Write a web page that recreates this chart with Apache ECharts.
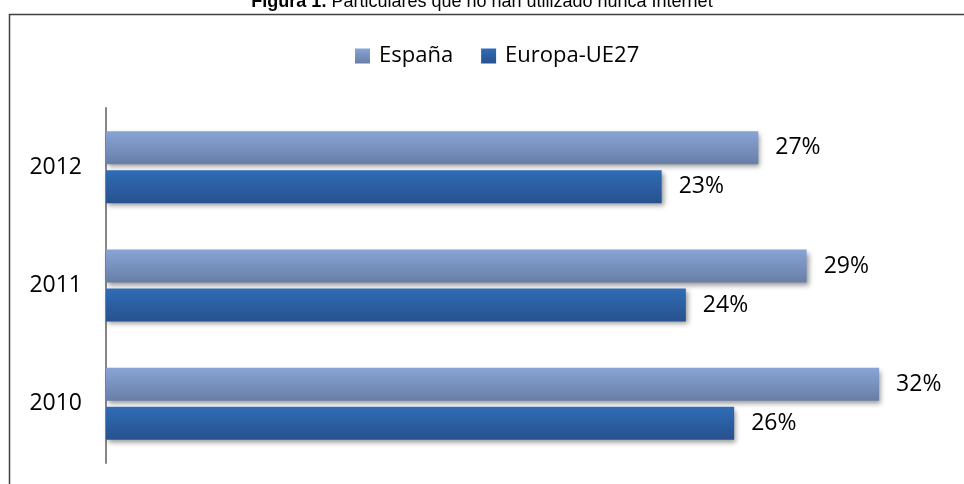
<!DOCTYPE html>
<html>
<head>
<meta charset="utf-8">
<script src="https://cdn.jsdelivr.net/npm/echarts@6/dist/echarts.min.js"></script>
<style>
  html, body { margin: 0; padding: 0; background: #fff; }
  #chart { width: 964px; height: 484px; }
</style>
</head>
<body>
<div id="chart"></div>
<script>
// Particulares que no han utilizado nunca Internet (%)
const years = ['2010', '2011', '2012']
const espana = [32, 29, 27]
const europa = [26, 24, 23]

const chart = echarts.init(document.getElementById('chart'))

const labelFont = '"Open Sans", sans-serif'

chart.setOption({
  animation: false,
  title: {
    text: '{b|Figura 1.} Particulares que no han utilizado nunca Internet',
    left: 'center',
    top: -12,
    textStyle: {
      fontFamily: '"Liberation Sans", Arial, sans-serif',
      fontSize: 18,
      fontWeight: 'normal',
      color: '#000',
      rich: {
        b: { fontFamily: '"Liberation Sans", Arial, sans-serif', fontSize: 18, fontWeight: 'bold', color: '#000' }
      }
    }
  },
  graphic: [
    {
      type: 'polyline',
      shape: { points: [[9.5, 484], [9.5, 14.5], [964, 14.5]] },
      style: { stroke: '#404040', lineWidth: 1.5, fill: null }
    }
  ],
  legend: {
    top: 40,
    left: 350,
    itemWidth: 15,
    itemHeight: 15,
    itemGap: 28,
    icon: 'rect',
    textStyle: { fontFamily: labelFont, fontSize: 22, color: '#000', padding: [0, 0, 0, 4] },
    data: ['España', 'Europa-UE27']
  },
  grid: {
    left: 106,
    top: 108,
    height: 355,
    width: 845.6
  },
  xAxis: {
    type: 'value',
    min: 0,
    max: 35,
    show: false
  },
  yAxis: {
    type: 'category',
    data: years,
    axisLine: { show: true, lineStyle: { color: '#868686', width: 2 } },
    axisTick: { show: false },
    axisLabel: { margin: 24, fontFamily: labelFont, fontSize: 23, color: '#000' }
  },
  series: [
    {
      name: 'España',
      type: 'bar',
      data: espana,
      barWidth: 33,
      barGap: '18%',
      itemStyle: {
        color: new echarts.graphic.LinearGradient(0, 0, 0, 1, [
          { offset: 0, color: '#88a4d6' },
          { offset: 1, color: '#687ea6' }
        ]),
        shadowColor: 'rgba(0,0,0,0.4)',
        shadowBlur: 5,
        shadowOffsetX: 2,
        shadowOffsetY: 3
      },
      label: {
        show: true,
        position: 'right',
        distance: 17,
        formatter: '{c}%',
        fontFamily: labelFont,
        fontSize: 23,
        color: '#000'
      }
    },
    {
      name: 'Europa-UE27',
      type: 'bar',
      data: europa,
      barWidth: 33,
      barGap: '18%',
      itemStyle: {
        color: new echarts.graphic.LinearGradient(0, 0, 0, 1, [
          { offset: 0, color: '#306cb6' },
          { offset: 1, color: '#27518e' }
        ]),
        shadowColor: 'rgba(0,0,0,0.4)',
        shadowBlur: 5,
        shadowOffsetX: 2,
        shadowOffsetY: 3
      },
      label: {
        show: true,
        position: 'right',
        distance: 17,
        formatter: '{c}%',
        fontFamily: labelFont,
        fontSize: 23,
        color: '#000'
      }
    }
  ]
})
</script>
</body>
</html>
